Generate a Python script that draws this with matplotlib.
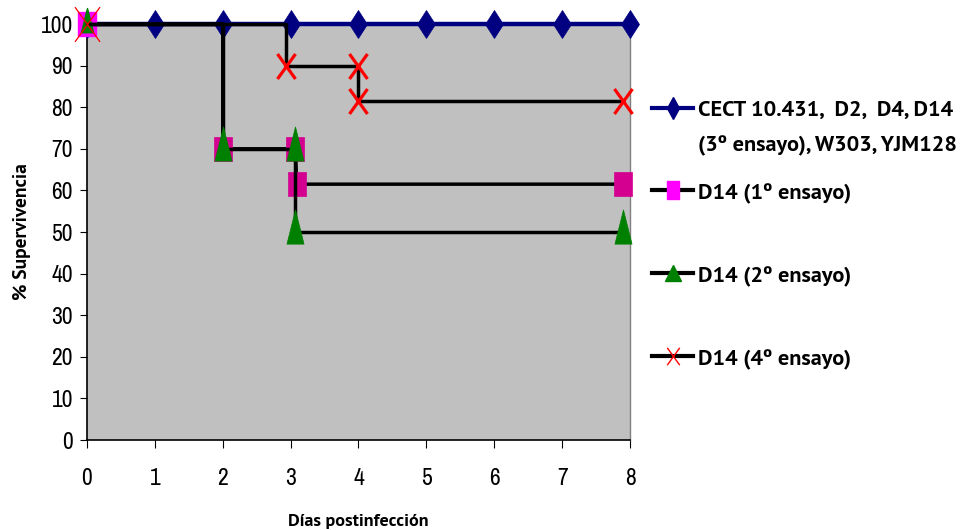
import matplotlib
matplotlib.use("Agg")
import matplotlib.pyplot as plt
from matplotlib.lines import Line2D
from matplotlib.path import Path

# supervivencia (%) frente a dias postinfeccion
dias_cect = [0, 1, 2, 3, 4, 5, 6, 7, 8]
sup_cect = [100, 100, 100, 100, 100, 100, 100, 100, 100]

dias_e1 = [0, 2, 2, 3.07, 3.09, 7.9]
sup_e1 = [100, 100, 70, 70, 61.5, 61.5]

dias_e2 = [0, 2, 2, 3.07, 3.07, 7.9]
sup_e2 = [100, 100, 70, 70, 50, 50]

dias_e4 = [0, 2.93, 2.93, 4, 4, 7.9]
sup_e4 = [100, 100, 90, 90, 81.5, 81.5]

etiquetas = ["CECT 10.431,  D2,  D4, D14\n(3º ensayo), W303, YJM128",
             "D14 (1º ensayo)", "D14 (2º ensayo)", "D14 (4º ensayo)"]

num_font = ["Liberation Sans Narrow", "Arial Narrow", "Pragati Narrow",
            "Archivo Narrow", "Roboto Condensed", "DejaVu Sans"]
ley_font = ["PT Sans", "DejaVu Sans"]

# marcadores alargados en vertical
rect = Path([(-0.37, -0.5), (0.37, -0.5), (0.37, 0.5), (-0.37, 0.5), (-0.37, -0.5)],
            [Path.MOVETO, Path.LINETO, Path.LINETO, Path.LINETO, Path.CLOSEPOLY])
tri = Path([(-0.25, -0.34), (0.25, -0.34), (0, 0.66), (-0.25, -0.34)],
           [Path.MOVETO, Path.LINETO, Path.LINETO, Path.CLOSEPOLY])
cruz = Path([(-0.36, -0.5), (0.36, 0.5), (-0.36, 0.5), (0.36, -0.5)],
            [Path.MOVETO, Path.LINETO, Path.MOVETO, Path.LINETO])

fig = plt.figure(figsize=(9.62, 5.30), dpi=100)
ax = fig.add_axes([0.0904, 0.1698, 0.5645, 0.7849])
ax.set_facecolor("#c0c0c0")

ax.plot(dias_cect, sup_cect, color="#000080", lw=3.2, marker="d", ms=14.5,
        mfc="#000080", mec="#000080", mew=0.5, clip_on=False, zorder=3)

marcas = [2, 3, 4, 5]
ax.plot(dias_e1, sup_e1, color="black", lw=2.5, marker=rect, ms=17.5,
        mfc="#d4008f", mec="#d4008f", mew=0.5, markevery=marcas,
        clip_on=False, zorder=4)
ax.plot(dias_e2, sup_e2, color="black", lw=2.5, marker=tri, ms=32.5,
        mfc="#008000", mec="#008000", mew=0.5, markevery=marcas,
        clip_on=False, zorder=5)
ax.plot(dias_e4, sup_e4, color="black", lw=2.5, marker=cruz, ms=18,
        mfc="none", mec="red", mew=2.3, markevery=marcas,
        clip_on=False, zorder=6)

# primer punto de cada ensayo
ax.plot(dias_e1[:1], sup_e1[:1], ls="none", marker=rect, ms=17.5,
        mfc="#ff00ff", mec="#ff00ff", clip_on=False, zorder=4)
ax.plot(dias_e2[:1], sup_e2[:1], ls="none", marker=tri, ms=23,
        mfc="#008000", mec="#008000", clip_on=False, zorder=5)
ax.plot(dias_e4[:1], sup_e4[:1], ls="none", marker=cruz, ms=25,
        mfc="none", mec="red", mew=0.9, clip_on=False, zorder=6)

ax.set_xlim(0, 8)
ax.set_ylim(0, 100)
ax.set_xticks(range(0, 9))
ax.set_yticks(range(0, 101, 10))
ax.tick_params(axis="x", direction="out", length=6, pad=14, labelsize=18.5)
ax.tick_params(axis="y", direction="out", length=5, pad=5, labelsize=18.5)
for lab in ax.get_xticklabels() + ax.get_yticklabels():
    lab.set_family(num_font)

for s in ("left", "bottom"):
    ax.spines[s].set_color("black")
    ax.spines[s].set_linewidth(1.2)
for s in ("right", "top"):
    ax.spines[s].set_color("#808080")
    ax.spines[s].set_linewidth(1.0)

ax.set_xlabel("Días postinfección", family=ley_font, weight="bold",
              fontsize=13, labelpad=18)
ax.set_ylabel("% Supervivencia", family=ley_font, weight="bold",
              fontsize=14, labelpad=7)

# leyenda dibujada a mano
estilos = [
    dict(color="#000080", marker="d", mfc="#000080", mec="#000080", ms=11),
    dict(color="black", marker=rect, mfc="#ff00ff", mec="#ff00ff", ms=12.5),
    dict(color="black", marker="^", mfc="#008000", mec="#008000", ms=11),
    dict(color="black", marker=cruz, mfc="none", mec="red", ms=12.5, mew=1.0),
]
ys = [108, 190, 273, 356]
for est, lab, yp in zip(estilos, etiquetas, ys):
    yf = 1 - yp / 530
    fig.add_artist(Line2D([652 / 962, 672.5 / 962, 693 / 962], [yf, yf, yf], lw=3,
                          markevery=[1], transform=fig.transFigure, **est))
    fig.text(698 / 962, yf + 7 / 530, lab, family=ley_font, weight="bold",
             fontsize=16, va="top", ha="left", linespacing=1.95)

fig.savefig("out.png", dpi=100)
